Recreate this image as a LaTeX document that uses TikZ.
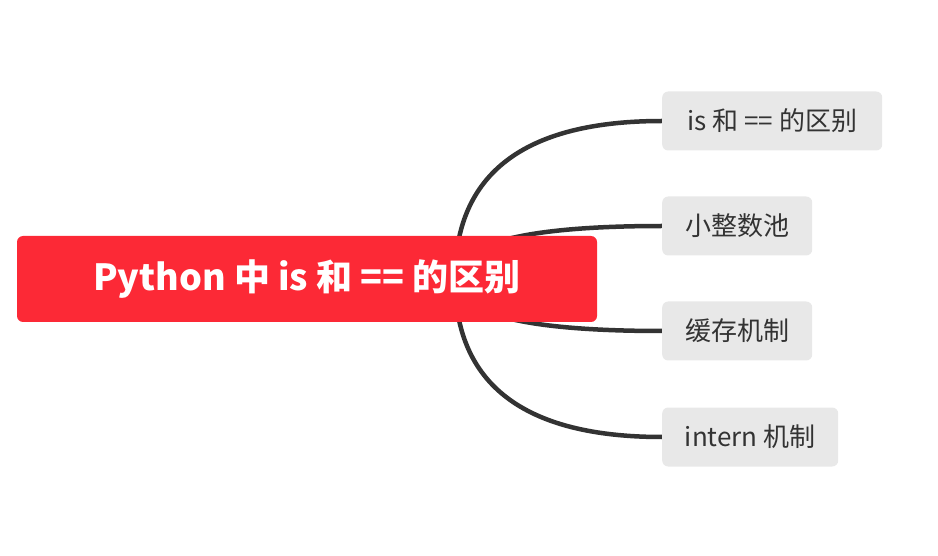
\documentclass[tikz,border=0pt]{standalone}
\usepackage{fontspec}
\setmainfont{Noto Sans CJK SC}
\usetikzlibrary{backgrounds,calc}

\definecolor{rootred}{HTML}{FC2936}
\definecolor{leafgray}{HTML}{E8E8E8}
\definecolor{inkgray}{HTML}{333333}

\begin{document}
\begin{tikzpicture}[
  x=1pt, y=-1pt,
  root/.style={fill=rootred, rounded corners=6pt, minimum width=580pt, minimum height=86pt,
    text=white, font=\fontsize{36}{42}\selectfont\bfseries},
  leaf/.style={fill=leafgray, rounded corners=6pt, minimum height=59pt, anchor=west,
    text=inkgray, font=\fontsize{26}{32}\selectfont},
  link/.style={draw=inkgray, line width=4.5pt}
]
\useasboundingbox (0,0) rectangle (938,556);
\node[root] (topic) at (307,279) {Python 中 is 和 == 的区别};
\coordinate (hub) at (455,279);
\node[leaf, minimum width=220pt] (diff) at (662,121) {is 和 == 的区别};
\node[leaf, minimum width=150pt] (smallint) at (662,226) {小整数池};
\node[leaf, minimum width=150pt] (cache) at (662,331) {缓存机制};
\node[leaf, minimum width=176pt] (intern) at (662,437) {intern 机制};
\begin{scope}[on background layer]
  % quadratic bend, written as a cubic
  \foreach \leafname in {diff, smallint, cache, intern}
    \draw[link] (hub) .. controls ($(hub)!2/3!(hub |- \leafname.west)$)
      and ($(\leafname.west)!2/3!(hub |- \leafname.west)$) .. (\leafname.west);
\end{scope}
\end{tikzpicture}
\end{document}
